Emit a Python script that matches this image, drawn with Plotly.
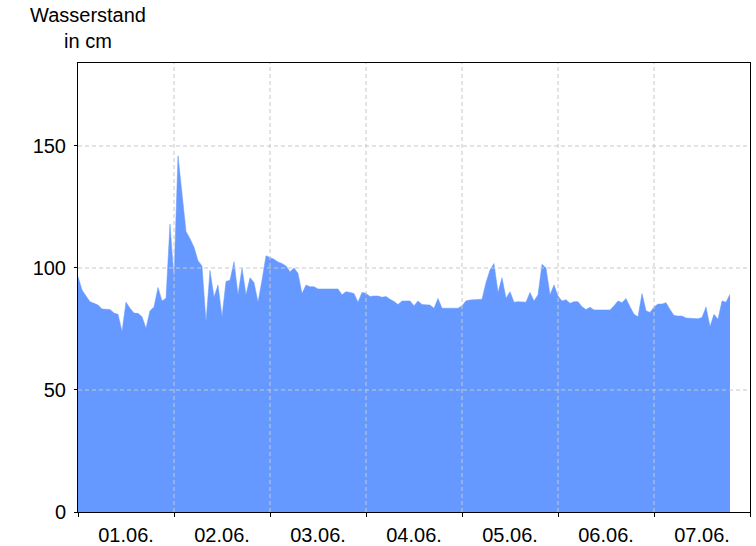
import pandas as pd
import plotly.graph_objects as go

# Hourly water level (cm), starting 01.06. 00:00
level = [
    96.5, 91, 88.5, 86.2, 85.5, 84.8, 83.2, 83.2, 83, 81.5, 81, 74,
    86, 83.5, 81.5, 81.4, 80, 75.3, 82.5, 84, 92, 86.5, 87.6, 118,
    95.8, 146, 130, 115, 112, 108.5, 103, 100.8, 78, 99, 88, 93,
    80, 94.5, 95, 102.6, 89, 100, 89, 96, 94, 86, 95, 105,
    104.3, 103.6, 102.4, 101.8, 100.8, 98.5, 100, 97.8, 89.5, 93, 92.3, 92.3,
    91.4, 91.4, 91.4, 91.4, 91.4, 91.4, 89, 90.3, 90, 89.5, 86, 90,
    89.6, 88.3, 88.5, 88.5, 88, 88.3, 87.2, 86.3, 85, 86.5, 86.5, 86.5,
    84.5, 86.5, 85, 84.8, 84.8, 83.5, 87.5, 83.5, 83.5, 83.5, 83.5, 83.5,
    84.5, 86.5, 86.9, 86.9, 86.9, 87.2, 94, 99.2, 101.8, 90, 96, 87.6,
    90.3, 86, 86.2, 86, 86, 90, 86.5, 89, 101.5, 100, 89, 93,
    88.5, 86.5, 87, 85.5, 86.2, 86.2, 84.1, 83, 83.9, 82.8, 82.8, 82.8,
    82.8, 82.8, 84.5, 86.5, 85.8, 87.5, 84.1, 81, 80, 89.5, 82.5, 81.8,
    84, 85.2, 85.2, 85.8, 83, 80.5, 80.3, 80.3, 79.5, 79.4, 79.4, 79.2,
    79.7, 84, 76, 81, 79, 86.5, 86, 89.2,
]
start = "2024-06-01 00:00"
day_starts = ["2024-06-01", "2024-06-02", "2024-06-03", "2024-06-04",
              "2024-06-05", "2024-06-06", "2024-06-07", "2024-06-08"]
day_labels = ["01.06.", "02.06.", "03.06.", "04.06.", "05.06.", "06.06.", "07.06."]
y_ticks = [0, 50, 100, 150]

times = pd.date_range(start, periods=len(level), freq="h")
label_pos = [pd.Timestamp(d) + pd.Timedelta(hours=12) for d in day_starts[:-1]]

FONT = "Liberation Sans, Arial, sans-serif"
GRID = "#c8c8c8"

fig = go.Figure()
fig.add_trace(go.Scatter(
    x=times, y=level, mode="lines", fill="tozeroy",
    line=dict(color="#6699ff", width=0.5), fillcolor="#6699ff",
    hoverinfo="skip", showlegend=False,
))

# dashed grid drawn above the filled area
for d in day_starts[1:-1]:
    fig.add_shape(type="line", xref="x", yref="paper", x0=d, x1=d, y0=0, y1=1,
                  line=dict(color=GRID, width=1, dash="4px,3px"), layer="above")
for v in y_ticks[1:]:
    fig.add_shape(type="line", xref="paper", yref="y", x0=0, x1=1, y0=v, y1=v,
                  line=dict(color=GRID, width=1, dash="4px,3px"), layer="above")

fig.update_layout(
    width=756, height=546,
    margin=dict(l=78, r=6, t=63, b=34, pad=0, autoexpand=False),
    paper_bgcolor="white", plot_bgcolor="white",
    font=dict(family=FONT, size=20, color="black"),
    xaxis=dict(
        range=[day_starts[0], day_starts[-1]], automargin=False,
        tickmode="array", tickvals=label_pos, ticktext=day_labels,
        ticks="", ticklen=0, showgrid=False, zeroline=False,
        showline=True, linecolor="black", linewidth=1, mirror=True,
        tickfont=dict(family=FONT, size=20, color="black"),
        ticklabelstandoff=5,
        minor=dict(tickmode="array", tickvals=day_starts, ticks="outside",
                   ticklen=4, tickcolor="black", showgrid=False),
        layer="above traces",
    ),
    yaxis=dict(
        range=[0, 184], tickmode="array", tickvals=y_ticks, automargin=False,
        ticks="outside", ticklen=3, tickcolor="black",
        showgrid=False, zeroline=False,
        showline=True, linecolor="black", linewidth=1, mirror=True,
        tickfont=dict(family=FONT, size=20, color="black"),
        ticklabelstandoff=4,
        layer="above traces",
    ),
    annotations=[dict(
        text="Wasserstand<br>in cm", xref="paper", yref="paper",
        x=0, y=1, xanchor="center", yanchor="bottom", xshift=10, yshift=9,
        showarrow=False, align="center",
        font=dict(family=FONT, size=20, color="black"),
    )],
)

fig.write_html(
    "out.html",
    config={"responsive": False, "displayModeBar": False},
    post_script="document.body.style.margin='0';document.body.style.overflow='hidden';",
)
